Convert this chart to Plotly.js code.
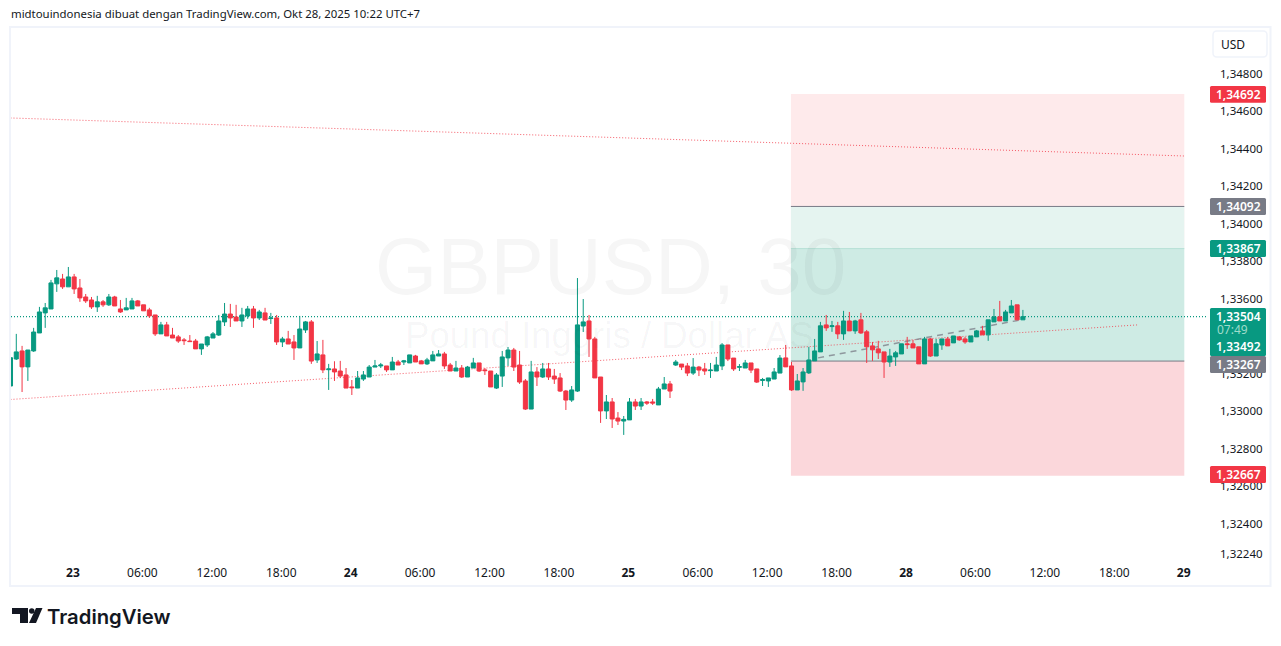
<!DOCTYPE html>
<html><head><meta charset="utf-8">
<script src="https://cdn.plot.ly/plotly-3.0.1.min.js"></script>
<style>html,body{margin:0;padding:0;background:#fff;overflow:hidden}</style>
</head><body><div id="chart" style="width:1281px;height:646px"></div>
<script>
const opens=[1.33134,1.33278,1.33321,1.33236,1.33321,1.33417,1.33524,1.33545,1.33679,1.33705,
1.33663,1.33716,1.33657,1.33609,1.33593,1.33556,1.33583,1.33567,1.33609,1.33545,
1.33540,1.33545,1.33588,1.33567,1.33540,1.33513,1.33412,1.33460,1.33406,1.33396,
1.33380,1.33374,1.33374,1.33332,1.33353,1.33390,1.33406,1.33476,1.33518,1.33502,
1.33481,1.33508,1.33545,1.33497,1.33524,1.33494,1.33497,1.33369,1.33385,1.33369,
1.33337,1.33433,1.33476,1.33273,1.33300,1.33221,1.33225,1.33214,1.33193,1.33129,
1.33123,1.33171,1.33182,1.33235,1.33241,1.33241,1.33220,1.33262,1.33262,1.33257,
1.33294,1.33268,1.33252,1.33268,1.33294,1.33305,1.33246,1.33214,1.33230,1.33182,
1.33230,1.33257,1.33220,1.33214,1.33123,1.33187,1.33284,1.33326,1.33246,1.33161,
1.33011,1.33209,1.33182,1.33225,1.33187,1.33177,1.33107,1.33059,1.33107,1.33454,
1.33481,1.33385,1.33182,1.33001,1.33049,1.32963,1.32947,1.32953,1.33049,1.33027,
1.33049,1.33049,1.33033,1.33118,1.33145,1.33246,1.33251,1.33241,1.33203,1.33235,
1.33225,1.33216,1.33214,1.33241,1.33353,1.33283,1.33234,1.33230,1.33257,1.33225,
1.33164,1.33161,1.33171,1.33203,1.33284,1.33241,1.33113,1.33156,1.33204,1.33268,
1.33316,1.33460,1.33451,1.33455,1.33412,1.33481,1.33428,1.33487,1.33423,1.33348,
1.33332,1.33316,1.33262,1.33289,1.33305,1.33359,1.33359,1.33343,1.33252,1.33385,
1.33294,1.33353,1.33385,1.33364,1.33396,1.33385,1.33369,1.33396,1.33428,1.33407,
1.33476,1.33503,1.33481,1.33524,1.33567,1.33487];
const highs=[1.33335,1.33412,1.33348,1.33326,1.33444,1.33556,1.33577,1.33700,1.33753,1.33732,
1.33769,1.33732,1.33705,1.33625,1.33609,1.33615,1.33593,1.33625,1.33615,1.33593,
1.33604,1.33604,1.33593,1.33567,1.33551,1.33513,1.33476,1.33476,1.33444,1.33406,
1.33390,1.33406,1.33385,1.33358,1.33401,1.33422,1.33513,1.33577,1.33572,1.33567,
1.33551,1.33561,1.33561,1.33540,1.33551,1.33524,1.33513,1.33396,1.33428,1.33406,
1.33508,1.33481,1.33486,1.33374,1.33380,1.33252,1.33266,1.33268,1.33230,1.33166,
1.33214,1.33214,1.33246,1.33273,1.33257,1.33241,1.33289,1.33273,1.33273,1.33300,
1.33300,1.33273,1.33284,1.33321,1.33326,1.33316,1.33257,1.33268,1.33246,1.33241,
1.33284,1.33257,1.33230,1.33214,1.33203,1.33321,1.33342,1.33337,1.33321,1.33171,
1.33268,1.33235,1.33257,1.33257,1.33225,1.33203,1.33113,1.33134,1.33710,1.33598,
1.33513,1.33396,1.33182,1.33086,1.33070,1.32995,1.32974,1.33070,1.33065,1.33070,
1.33054,1.33065,1.33129,1.33182,1.33161,1.33273,1.33251,1.33257,1.33283,1.33241,
1.33257,1.33257,1.33289,1.33363,1.33353,1.33283,1.33251,1.33273,1.33257,1.33225,
1.33177,1.33177,1.33230,1.33299,1.33353,1.33262,1.33198,1.33230,1.33343,1.33385,
1.33476,1.33513,1.33481,1.33476,1.33535,1.33529,1.33487,1.33524,1.33433,1.33369,
1.33375,1.33316,1.33332,1.33321,1.33359,1.33396,1.33380,1.33343,1.33396,1.33391,
1.33385,1.33385,1.33396,1.33401,1.33401,1.33396,1.33401,1.33433,1.33455,1.33487,
1.33545,1.33588,1.33540,1.33593,1.33567,1.33540];
const lows=[1.33134,1.33273,1.33102,1.33161,1.33316,1.33417,1.33444,1.33545,1.33636,1.33652,
1.33663,1.33625,1.33583,1.33577,1.33545,1.33529,1.33556,1.33561,1.33561,1.33524,
1.33540,1.33545,1.33561,1.33535,1.33497,1.33401,1.33412,1.33401,1.33390,1.33364,
1.33353,1.33371,1.33332,1.33300,1.33342,1.33390,1.33401,1.33454,1.33449,1.33481,
1.33449,1.33492,1.33444,1.33486,1.33486,1.33465,1.33353,1.33342,1.33358,1.33273,
1.33337,1.33417,1.33252,1.33257,1.33203,1.33113,1.33161,1.33177,1.33123,1.33086,
1.33123,1.33161,1.33182,1.33235,1.33230,1.33209,1.33220,1.33246,1.33246,1.33257,
1.33262,1.33252,1.33246,1.33268,1.33294,1.33225,1.33214,1.33214,1.33177,1.33182,
1.33230,1.33209,1.33193,1.33129,1.33118,1.33129,1.33241,1.33214,1.33145,1.33006,
1.33011,1.33134,1.33177,1.33166,1.33145,1.33102,1.33006,1.33049,1.33102,1.33422,
1.33289,1.33177,1.32937,1.32958,1.32910,1.32926,1.32873,1.32953,1.33006,1.33006,
1.33033,1.33033,1.33033,1.33118,1.33070,1.33241,1.33219,1.33187,1.33193,1.33187,
1.33193,1.33177,1.33214,1.33219,1.33267,1.33214,1.33214,1.33230,1.33203,1.33150,
1.33134,1.33129,1.33171,1.33203,1.33236,1.33108,1.33113,1.33108,1.33198,1.33268,
1.33316,1.33428,1.33423,1.33385,1.33380,1.33428,1.33412,1.33412,1.33257,1.33268,
1.33278,1.33177,1.33236,1.33241,1.33305,1.33332,1.33337,1.33252,1.33252,1.33289,
1.33294,1.33327,1.33348,1.33364,1.33375,1.33359,1.33369,1.33396,1.33407,1.33375,
1.33476,1.33481,1.33481,1.33524,1.33487,1.33487];
const closes=[1.33285,1.33316,1.33236,1.33326,1.33422,1.33529,1.33551,1.33684,1.33711,1.33663,
1.33716,1.33652,1.33604,1.33588,1.33556,1.33583,1.33567,1.33609,1.33561,1.33529,
1.33551,1.33588,1.33561,1.33535,1.33508,1.33412,1.33460,1.33401,1.33390,1.33374,
1.33376,1.33371,1.33332,1.33358,1.33396,1.33412,1.33481,1.33518,1.33497,1.33481,
1.33513,1.33545,1.33497,1.33529,1.33486,1.33497,1.33369,1.33385,1.33358,1.33337,
1.33438,1.33476,1.33267,1.33305,1.33220,1.33225,1.33209,1.33187,1.33123,1.33125,
1.33177,1.33193,1.33235,1.33241,1.33246,1.33220,1.33262,1.33246,1.33268,1.33300,
1.33262,1.33252,1.33273,1.33300,1.33305,1.33241,1.33214,1.33230,1.33182,1.33235,
1.33257,1.33214,1.33216,1.33129,1.33193,1.33289,1.33326,1.33235,1.33155,1.33011,
1.33209,1.33182,1.33225,1.33182,1.33171,1.33107,1.33059,1.33113,1.33460,1.33476,
1.33385,1.33177,1.33001,1.33049,1.32958,1.32947,1.32956,1.33049,1.33027,1.33049,
1.33043,1.33043,1.33118,1.33145,1.33107,1.33262,1.33235,1.33203,1.33235,1.33219,
1.33214,1.33219,1.33246,1.33353,1.33278,1.33225,1.33237,1.33257,1.33219,1.33155,
1.33168,1.33177,1.33209,1.33283,1.33236,1.33113,1.33161,1.33209,1.33273,1.33321,
1.33455,1.33444,1.33455,1.33412,1.33481,1.33428,1.33481,1.33417,1.33343,1.33327,
1.33311,1.33262,1.33294,1.33311,1.33359,1.33355,1.33337,1.33252,1.33385,1.33294,
1.33359,1.33385,1.33348,1.33401,1.33380,1.33369,1.33401,1.33428,1.33407,1.33487,
1.33503,1.33481,1.33529,1.33561,1.33487,1.33504];

const xTickVals=[11.8,23.8,35.8,47.8,59.8,71.8,83.8,95.8,107.8,119.8,131.8,143.8,155.8,167.8,179.8,191.8,203.8];
const xTickText=['<b>23</b>','06:00','12:00','18:00','<b>24</b>','06:00','12:00','18:00','<b>25</b>','06:00','12:00','18:00','<b>28</b>','06:00','12:00','18:00','<b>29</b>'];
const yTickVals=[1.348,1.346,1.344,1.342,1.340,1.338,1.336,1.332,1.330,1.328,1.326,1.324,1.3224];
const yTickText=['1,34800','1,34600','1,34400','1,34200','1,34000','1,33800','1,33600','1,33200','1,33000','1,32800','1,32600','1,32400','1,32240'];

const xRange=[1.086,208.86], yRange=[1.32195,1.35044];
const lastPrice=[1.33504];
const upperTrendX=[1,204], upperTrendY=[1.34564,1.34361];
const lowerTrendX=[1,195.8], lowerTrendY=[1.33062,1.33460];
const dashedTrendX=[140.6,175.5], dashedTrendY=[1.33284,1.33486];
const zoneX=[135.9,203.9];
const zoneUpperRed=[1.33867,1.34692], zonePaleGreen=[1.33867,1.34092], zoneGreen=[1.33267,1.33867], zoneLowerRed=[1.32655,1.33267];

const PL=11,PT=28,PW=1202,PH=534;
const px=x=>(x-PL)/PW, py=y=>1-(y-PT)/PH;
const rrect=(x0,y0,x1,y1,r)=>{const X=v=>px(v),Y=v=>py(v);
  return `M${X(x0+r)},${Y(y0)}L${X(x1-r)},${Y(y0)}Q${X(x1)},${Y(y0)} ${X(x1)},${Y(y0+r)}L${X(x1)},${Y(y1-r)}Q${X(x1)},${Y(y1)} ${X(x1-r)},${Y(y1)}L${X(x0+r)},${Y(y1)}Q${X(x0)},${Y(y1)} ${X(x0)},${Y(y1-r)}L${X(x0)},${Y(y0+r)}Q${X(x0)},${Y(y0)} ${X(x0+r)},${Y(y0)}Z`;};
const poly=(pts)=>'M'+pts.map(p=>`${px(p[0])},${py(p[1])}`).join('L')+'Z';

const zone=(ys,fill)=>({type:'rect',layer:'below',xref:'x',yref:'y',x0:zoneX[0],x1:zoneX[1],y0:ys[0],y1:ys[1],fillcolor:fill,line:{width:0}});
const hline=(v,color,w)=>({type:'line',layer:'below',xref:'x',yref:'y',x0:zoneX[0],x1:zoneX[1],y0:v,y1:v,line:{color:color,width:w}});
const tline=(xs,ys,color,w,dash)=>({type:'line',layer:'below',xref:'x',yref:'y',x0:xs[0],x1:xs[1],y0:ys[0],y1:ys[1],line:{color:color,width:w,dash:dash}});
const box=(x0,y0,x1,y1,c)=>({type:'path',layer:'above',xref:'paper',yref:'paper',path:rrect(x0,y0,x1,y1,1.5),fillcolor:c,line:{width:0}});

const shapes=[
 zone(zoneUpperRed,'#FEEAEB'),zone(zonePaleGreen,'#E5F4F0'),zone(zoneGreen,'#CEEBE4'),zone(zoneLowerRed,'#FBD7DB'),
 hline(zonePaleGreen[1],'#787B86',1),hline(zoneGreen[1],'#B5E0D6',1),hline(zoneGreen[0],'#787B86',1),
 tline(upperTrendX,upperTrendY,'rgba(242,54,69,0.8)',1,'1px,2px'),
 tline(lowerTrendX,lowerTrendY,'rgba(242,54,69,0.8)',1,'1px,2px'),
 tline(dashedTrendX,dashedTrendY,'rgba(120,123,134,0.75)',1.5,'6px,5px'),
 tline([xRange[0],208],[lastPrice[0],lastPrice[0]],'#089981',1.2,'1px,2px'),
 // frame
 {type:'rect',layer:'below',xref:'paper',yref:'paper',x0:px(10),x1:px(1270.5),y0:py(586),y1:py(27),fillcolor:'rgba(0,0,0,0)',line:{color:'#F0F3FA',width:2}},
 // USD button
 {type:'path',layer:'above',xref:'paper',yref:'paper',path:rrect(1213,31,1267,57,4),fillcolor:'#fff',line:{color:'#F0F3FA',width:1.5}},
 // price labels
 box(1210,86,1266,102.7,'#F23645'),box(1210,198,1266,215,'#787B86'),box(1210,240,1266,257,'#089981'),
 box(1210,308,1266,356,'#089981'),box(1210,356,1266,373,'#787B86'),box(1210,466,1266,483,'#F23645'),
 // TradingView logo
 {type:'path',layer:'above',xref:'paper',yref:'paper',path:poly([[12,608],[28,608],[28,623],[20,623],[20,614],[12,614]]),fillcolor:'#131722',line:{width:0}},
 {type:'circle',layer:'above',xref:'paper',yref:'paper',x0:px(29),x1:px(34.5),y0:py(613.8),y1:py(608.3),fillcolor:'#131722',line:{width:0}},
 {type:'path',layer:'above',xref:'paper',yref:'paper',path:poly([[36,608],[42.5,608],[36,623],[29,623]]),fillcolor:'#131722',line:{width:0}}
];

const ann=(text,x,y,o={})=>Object.assign({xref:'paper',yref:'paper',x:px(x),y:py(y),text:text,showarrow:false,xanchor:'center',yanchor:'middle',
  font:{family:'"Noto Sans",sans-serif',size:12,color:'#fff'},borderpad:0},o);
const UI='"Noto Sans",sans-serif';
const annotations=[
 ann('GBPUSD, 30',610,266,{font:{family:'"Liberation Sans",Arial,sans-serif',size:80,color:'rgba(19,23,34,0.04)'}}),
 ann('Pound Inggris / Dollar AS',609,335,{font:{family:'"Liberation Sans",Arial,sans-serif',size:36.6,color:'rgba(19,23,34,0.04)'}}),
 ann('midtouindonesia dibuat dengan TradingView.com, Okt 28, 2025 10:22 UTC+7',9.5,14,{xanchor:'left',font:{family:UI,size:11.4,color:'#131722'}}),
 ann('USD',1233,44.5,{font:{family:UI,size:12,color:'#131722'}}),
 ann('TradingView',109,616,{font:{family:'Inter,sans-serif',size:20.3,color:'#131722',weight:600}}),
 ann('1,34692',1238.5,94.3,{font:{family:UI,size:12,color:'#fff',weight:600}}),
 ann('1,34092',1238.5,206.5,{font:{family:UI,size:12,color:'#fff',weight:600}}),
 ann('1,33867',1238.5,248.5,{font:{family:UI,size:12,color:'#fff',weight:600}}),
 ann('1,33504',1238.5,316,{font:{family:UI,size:12,color:'#fff',weight:600}}),
 ann('07:49',1232,329.5,{font:{family:UI,size:12,color:'#9FDCCB'}}),
 ann('1,33492',1238.5,346.5,{font:{family:UI,size:12,color:'#fff',weight:600}}),
 ann('1,33267',1238.5,364,{font:{family:UI,size:12,color:'#fff',weight:600}}),
 ann('1,32667',1238.5,474,{font:{family:UI,size:12,color:'#fff',weight:600}})
];

const idx=opens.map((_,i)=>i+1);
Plotly.newPlot('chart',[{type:'candlestick',x:idx,open:opens,high:highs,low:lows,close:closes,
  increasing:{line:{color:'#089981',width:1},fillcolor:'#089981'},
  decreasing:{line:{color:'#F23645',width:1},fillcolor:'#F23645'},
  whiskerwidth:0,hoverinfo:'skip',showlegend:false}],
 {width:1281,height:646,autosize:false,margin:{l:PL,r:1281-PL-PW,t:PT,b:646-PT-PH,pad:0},
  boxgap:0.3,boxgroupgap:0,
  paper_bgcolor:'#fff',plot_bgcolor:'rgba(0,0,0,0)',showlegend:false,dragmode:false,hovermode:false,
  xaxis:{type:'linear',range:xRange,rangeslider:{visible:false},showgrid:false,zeroline:false,showline:false,ticks:'',
    tickmode:'array',tickvals:xTickVals,ticktext:xTickText,ticklabelstandoff:2,tickangle:0,
    tickfont:{family:UI,size:12,color:'#131722'}},
  yaxis:{side:'right',range:yRange,showgrid:false,zeroline:false,showline:false,ticks:'',
    tickmode:'array',tickvals:yTickVals,ticktext:yTickText,ticklabelstandoff:6,
    tickfont:{family:UI,size:11.5,color:'#131722'}},
  shapes:shapes,annotations:annotations},
 {displayModeBar:false,staticPlot:true});
</script></body></html>
